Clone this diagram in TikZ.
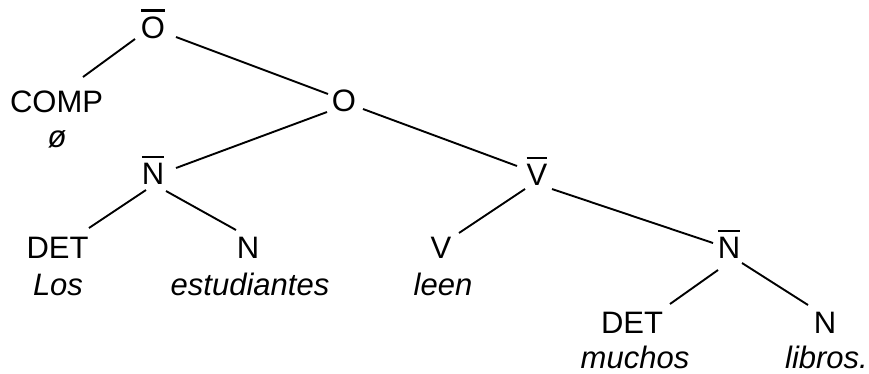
\documentclass[tikz,border=0pt]{standalone}
\usepackage{fontspec}
\setmainfont{Liberation Sans}
\newcommand\barred[1]{\setbox0=\hbox{#1}\vbox{\hrule height 2.5pt width \wd0\kern4.5pt\box0}}
\begin{document}
\begin{tikzpicture}[x=1pt,y=-1pt,
  lab/.style={anchor=base,inner sep=0pt,font=\fontsize{31}{37}\selectfont},
  word/.style={lab,font=\fontsize{31}{37}\selectfont\itshape},
  edge/.style={line width=1.9pt}]
\useasboundingbox (0,0) rectangle (869,373);
% category labels
\node[lab] (Obar)  at (153,38)  {\barred{O}};
\node[lab] (COMP)  at (56.5,112) {COMP};
\node[lab] (O)     at (344,111) {O};
\node[lab] (N1bar) at (153,184) {\barred{N}};
\node[lab] (Vbar)  at (537,185) {\barred{V}};
\node[lab] (DET1)  at (57.5,258) {DET};
\node[lab] (N1)    at (248,258) {N};
\node[lab] (V)     at (441,258) {V};
\node[lab] (N2bar) at (729,258) {\barred{N}};
\node[lab] (DET2)  at (632,333) {DET};
\node[lab] (N2)    at (825,333) {N};
% words
\node[word] (phi)  at (57,147)  {ø};
\node[word] (Los)  at (58,295)  {Los};
\node[word] (est)  at (250,295) {estudiantes};
\node[word] (leen) at (443,295) {leen};
\node[word] (much) at (635,368) {muchos};
\node[word] (lib)  at (826.5,368) {libros.};
% branches
\draw[edge] ([shift={(-18,1)}]Obar.base) -- ([shift={(26.5,-35)}]COMP.base);
\draw[edge] ([shift={(23,-1)}]Obar.base) -- ([shift={(-16,-17)}]O.base);
\draw[edge] ([shift={(-17,1)}]O.base) -- ([shift={(23,-16)}]N1bar.base);
\draw[edge] ([shift={(19,-2)}]O.base) -- ([shift={(-20,-19)}]Vbar.base);
\draw[edge] ([shift={(-7,6)}]N1bar.base) -- ([shift={(31.5,-30)}]DET1.base);
\draw[edge] ([shift={(13,7)}]N1bar.base) -- ([shift={(-12,-28)}]N1.base);
\draw[edge] ([shift={(-12,4)}]Vbar.base) -- ([shift={(18,-25)}]V.base);
\draw[edge] ([shift={(15,4)}]Vbar.base) -- ([shift={(-16,-15)}]N2bar.base);
\draw[edge] ([shift={(-11,12)}]N2bar.base) -- ([shift={(38,-29)}]DET2.base);
\draw[edge] ([shift={(13,5)}]N2bar.base) -- ([shift={(-17,-28)}]N2.base);
\end{tikzpicture}
\end{document}
